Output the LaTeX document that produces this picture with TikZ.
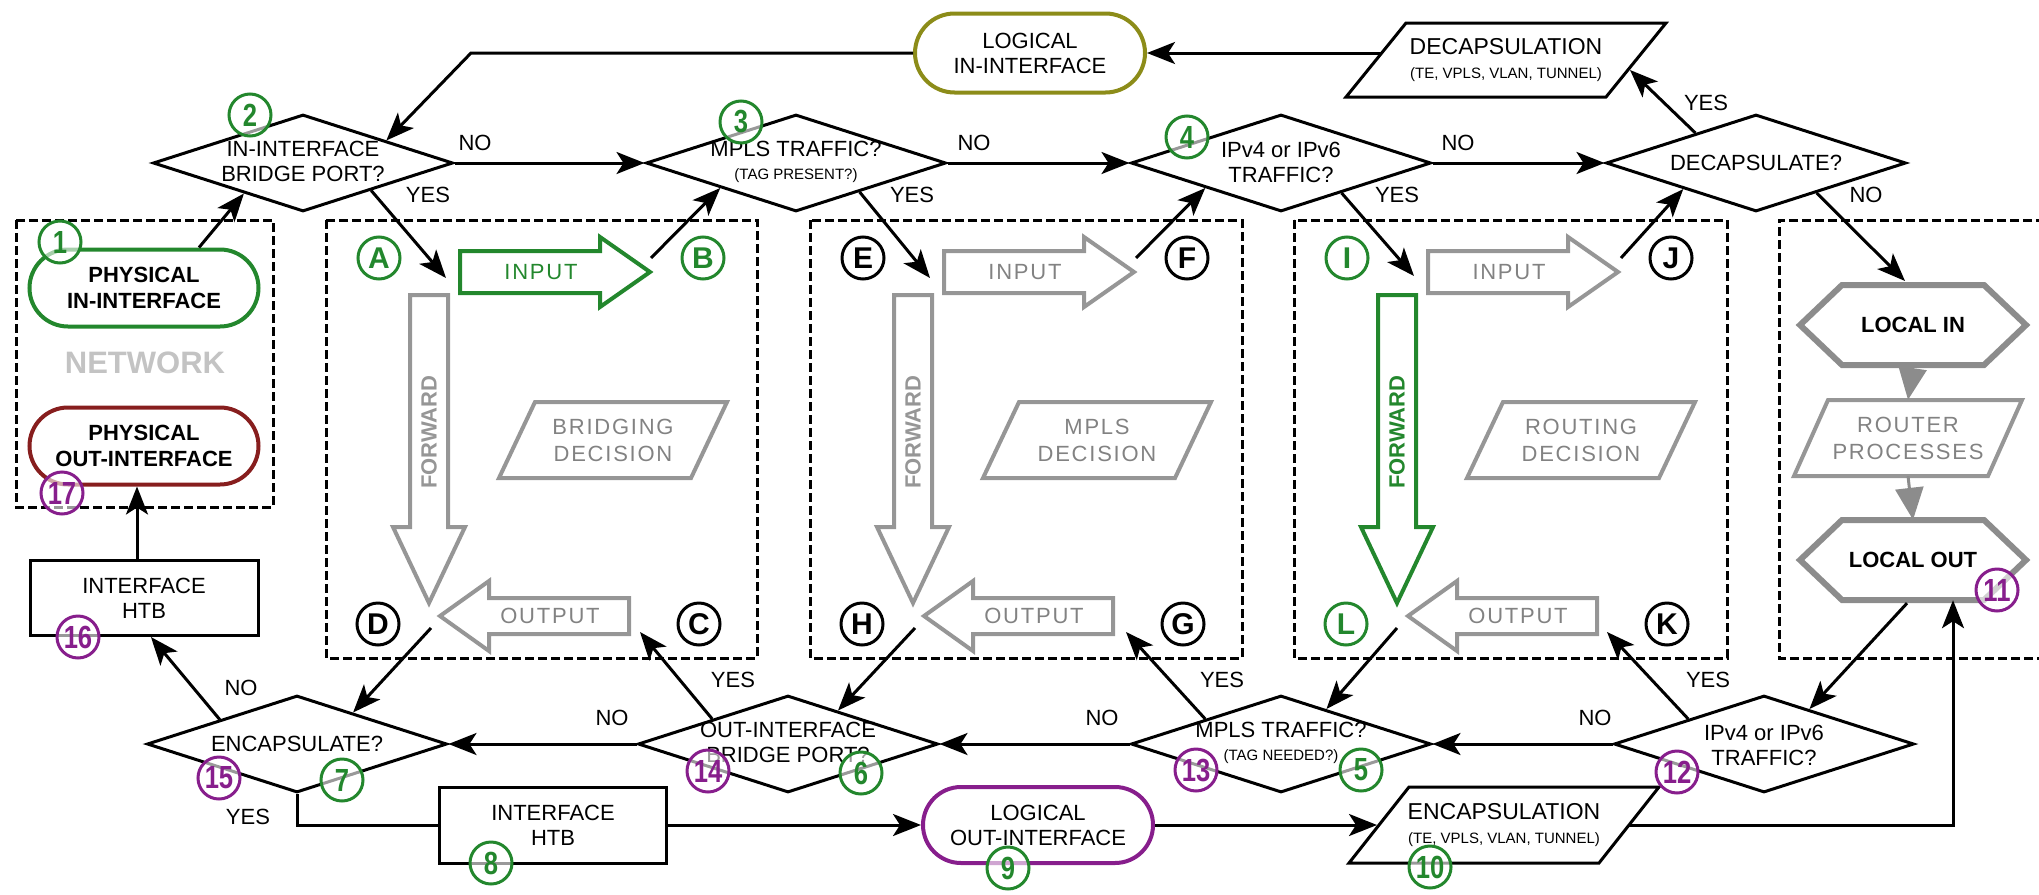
\documentclass[tikz,border=0pt]{standalone}
\usepackage{fontspec}
\setmainfont{Liberation Sans}
\newfontfamily\spfont{Liberation Sans}[LetterSpace=8]
\newfontfamily\numfont{Liberation Sans}[FakeStretch=0.8]
\usetikzlibrary{arrows.meta,shapes.geometric,shapes.misc,calc}
\definecolor{grn}{RGB}{35,135,45}
\definecolor{purp}{RGB}{135,30,140}
\definecolor{dred}{RGB}{135,30,30}
\definecolor{oliv}{RGB}{140,140,25}
\definecolor{gra}{RGB}{150,150,150}
\definecolor{grt}{RGB}{130,130,130}
\definecolor{netg}{RGB}{195,195,195}
\definecolor{hexg}{RGB}{140,140,140}
\newcommand\fs[2]{\fontsize{#1}{#2}\selectfont}
% right-pointing block arrow: tail x, tip x, y, colour
\newcommand\rblk[4]{\draw[#4,line width=4pt] (#1,#3-21) -- (#2-50,#3-21) -- (#2-50,#3-35) -- (#2,#3) -- (#2-50,#3+35) -- (#2-50,#3+21) -- (#1,#3+21) -- cycle;}
% left-pointing block arrow: tail x, tip x, y, colour
\newcommand\lblk[4]{\draw[#4,line width=4pt] (#1,#3-18) -- (#2+49,#3-18) -- (#2+49,#3-35) -- (#2,#3) -- (#2+49,#3+35) -- (#2+49,#3+18) -- (#1,#3+18) -- cycle;}
% down-pointing block arrow: x, top y, tip y, colour
\newcommand\dblk[4]{\draw[#4,line width=4pt] (#1-19,#2) -- (#1+19,#2) -- (#1+19,#3-76) -- (#1+36,#3-76) -- (#1,#3) -- (#1-36,#3-76) -- (#1-19,#3-76) -- cycle;}
% parallelogram: cx, cy, half width, half height, slant, options
\newcommand\parashape[6]{\draw[#6] (#1-#3+#5,#2-#4) -- (#1+#3+#5,#2-#4) -- (#1+#3-#5,#2+#4) -- (#1-#3-#5,#2+#4) -- cycle;}
% hexagon: cx, cy, half width, half height, inset
\newcommand\hexshape[5]{\draw[hexg,line width=6pt,fill=white] (#1-#3,#2) -- (#1-#3+#5,#2-#4) -- (#1+#3-#5,#2-#4) -- (#1+#3,#2) -- (#1+#3-#5,#2+#4) -- (#1-#3+#5,#2+#4) -- cycle;}
\begin{document}
\begin{tikzpicture}[x=1pt,y=-1pt,
 every node/.style={inner sep=0pt, align=center, font=\fs{22}{25}},
 dia/.style={diamond, draw, line width=3pt, minimum width=300pt, minimum height=97pt, aspect=3},
 conn/.style={line width=3pt, -{Stealth[length=28pt,width=22pt,inset=7pt]}},
 plain/.style={line width=3pt},
 dbox/.style={line width=3pt, dash pattern=on 9pt off 4pt},
 stad/.style={rounded rectangle, draw=#1, line width=4pt, minimum width=229pt, minimum height=77pt},
 rbox/.style={rectangle, draw, line width=3pt, minimum width=228pt, minimum height=75pt},
 ncirc/.style={circle, draw=#1, text=#1, line width=3pt, minimum size=42pt, fill=white, fill opacity=0.6, text opacity=1, font=\numfont\bfseries\fs{32}{32}},
 lcirc/.style={circle, draw=#1, text=#1, line width=3pt, minimum size=42pt, fill=white, font=\bfseries\fs{30}{30}},
 gtxt/.style={text=grt, font=\spfont\fs{22}{27}},
 ftxt/.style={text=#1, rotate=90, font=\bfseries\fs{22}{22}},
 garrow/.style={draw=hexg, line width=3pt, -{Triangle[length=32pt,width=28pt]}},
]
\useasboundingbox (0,0) rectangle (2039,894);

% ---------- dashed frames ----------
\draw[dbox] (16,220) rectangle (273,507);
\draw[dbox] (326,220) rectangle (757,658);
\draw[dbox] (810,220) rectangle (1242,658);
\draw[dbox] (1294,220) rectangle (1727,658);
\draw[dbox] (2045,220) -- (1779,220) -- (1779,658) -- (2045,658);

% ---------- block arrows ----------
\dblk{429}{295}{603}{gra}
\rblk{460}{650}{272}{grn}
\lblk{629}{440}{616}{gra}
\dblk{913}{295}{603}{gra}
\rblk{944}{1134}{272}{gra}
\lblk{1113}{924}{616}{gra}
\dblk{1397}{295}{603}{grn}
\rblk{1428}{1618}{272}{gra}
\lblk{1597}{1408}{616}{gra}

\node[ftxt=gra] (fwB) at (429,432) {FORWARD};
\node[ftxt=gra] (fwM) at (913,432) {FORWARD};
\node[ftxt=grn] (fwR) at (1397,432) {FORWARD};
\node[gtxt, text=grn] (inB) at (541,272) {INPUT};
\node[gtxt] (inM) at (1025,272) {INPUT};
\node[gtxt] (inR) at (1509,272) {INPUT};
\node[gtxt] (outB) at (550,616) {OUTPUT};
\node[gtxt] (outM) at (1034,616) {OUTPUT};
\node[gtxt] (outR) at (1518,616) {OUTPUT};

% ---------- decision parallelograms ----------
\parashape{613}{440}{96}{38}{18}{gra,line width=4pt}
\parashape{1097}{440}{96}{38}{18}{gra,line width=4pt}
\parashape{1581}{440}{96}{38}{18}{gra,line width=4pt}
\node[gtxt] (bdec) at (613,440) {BRIDGING\\DECISION};
\node[gtxt] (mdec) at (1097,440) {MPLS\\DECISION};
\node[gtxt] (rdec) at (1581,440) {ROUTING\\DECISION};

% ---------- network frame ----------
\node[stad=grn, font=\bfseries\fs{22}{26}] (physin) at (144,288) {PHYSICAL\\IN-INTERFACE};
\node[stad=dred, font=\bfseries\fs{22}{26}] (physout) at (144,446) {PHYSICAL\\OUT-INTERFACE};
\node[text=netg, font=\bfseries\fs{31}{31}] (net) at (145,363) {NETWORK};
\node[rbox] (htbA) at (144,598) {INTERFACE\\HTB};

% ---------- top row ----------
\node[stad=oliv, minimum width=230pt, minimum height=79pt] (login) at (1030,53) {LOGICAL\\IN-INTERFACE};
\parashape{1506}{60}{130}{37}{30}{line width=3pt}
\node[minimum width=320pt, minimum height=74pt] (decap) at (1506,60) {\fs{23}{25}DECAPSULATION\\[-1pt]{\fs{15}{17}(TE, VPLS, VLAN, TUNNEL)}};

\node[dia] (D2) at (303,163) {};
\node[dia] (D3) at (796,163) {};
\node[dia] (D4) at (1281,163) {};
\node[dia] (DD) at (1756,163) {};
\node (D2t) at (303,161) {IN-INTERFACE\\BRIDGE PORT?};
\node (D3t) at (796,162) {MPLS TRAFFIC?\\[-2pt]{\fs{15}{17}(TAG PRESENT?)}};
\node (D4t) at (1281,162) {IPv4 or IPv6\\TRAFFIC?};
\node (DDt) at (1756,163) {DECAPSULATE?};

% ---------- local frame ----------
\hexshape{1913}{325}{113}{40}{42}
\hexshape{1913}{560}{113}{40}{42}
\node[minimum width=226pt, minimum height=80pt, font=\bfseries\fs{22}{22}] (locin) at (1913,325) {LOCAL IN};
\node[minimum width=226pt, minimum height=80pt, font=\bfseries\fs{22}{22}] (locout) at (1913,560) {LOCAL OUT};
\parashape{1908}{438}{97}{38}{17}{gra,line width=4pt}
\node[gtxt, minimum width=228pt, minimum height=76pt] (rproc) at (1908,438) {ROUTER\\PROCESSES};
\draw[garrow] (locin.south) -- (rproc.north);
\draw[garrow] (rproc.south) -- (locout.north);

% ---------- bottom row ----------
\node[dia] (D7) at (297,744) {};
\node[dia] (D6) at (788,744) {};
\node[dia] (D5) at (1281,744) {};
\node[dia] (D12) at (1764,744) {};
\node (D7t) at (297,744) {ENCAPSULATE?};
\node (D6t) at (788,742) {OUT-INTERFACE\\BRIDGE PORT?};
\node (D5t) at (1281,743) {MPLS TRAFFIC?\\[-2pt]{\fs{15}{17}(TAG NEEDED?)}};
\node (D12t) at (1764,745) {IPv4 or IPv6\\TRAFFIC?};

\node[rbox, minimum width=227pt, minimum height=76pt] (htbB) at (553,825) {INTERFACE\\HTB};
\node[stad=purp, minimum width=230pt, minimum height=76pt] (logout) at (1038,825) {LOGICAL\\OUT-INTERFACE};
\parashape{1504}{825}{125}{38}{30}{line width=3pt}
\node[minimum width=310pt, minimum height=76pt] (encap) at (1504,825) {\fs{23}{25}ENCAPSULATION\\[-1pt]{\fs{15}{17}(TE, VPLS, VLAN, TUNNEL)}};

% ---------- named free ends ----------
\coordinate (fb) at (471,53);
\coordinate (decapL) at (1382,53);
\coordinate (decapR) at (1630,70);
\coordinate (inBs) at (446,278);
\coordinate (inBe) at (651,258);
\coordinate (inMs) at (930,278);
\coordinate (inMe) at (1136,258);
\coordinate (inRs) at (1414,276);
\coordinate (inRe) at (1621,258);
\coordinate (locinT) at (1905,281);
\coordinate (outBs) at (431,628);
\coordinate (outBt) at (640,632);
\coordinate (outMs) at (915,628);
\coordinate (outMt) at (1126,632);
\coordinate (outRs) at (1397,628);
\coordinate (outRt) at (1607,632);
\coordinate (encapR) at (1629,825);
\coordinate (encapL) at (1377,825);

% ---------- connectors ----------
\draw[conn] ($(physin.north)+(55,0)$) -- ($(D2.west)!0.61!(D2.south)$);
\draw[conn] (login.west) -- (fb) -- ($(D2.north)!0.55!(D2.east)$);
\draw[conn] (decapL) -- (login.east);
\draw[conn] (D2.east) -- (D3.west);
\draw[conn] (D3.east) -- (D4.west);
\draw[conn] (D4.east) -- (DD.west);
\draw[conn] ($(D2.south)!0.45!(D2.east)$) -- (inBs);
\draw[conn] ($(D3.south)!0.42!(D3.east)$) -- (inMs);
\draw[conn] ($(D4.south)!0.40!(D4.east)$) -- (inRs);
\draw[conn] (inBe) -- ($(D3.west)!0.5!(D3.south)$);
\draw[conn] (inMe) -- ($(D4.west)!0.5!(D4.south)$);
\draw[conn] (inRe) -- ($(DD.west)!0.52!(DD.south)$);
\draw[conn] ($(DD.north)!0.4!(DD.west)$) -- (decapR);
\draw[conn] ($(DD.south)!0.4!(DD.east)$) -- (locinT);

\draw[conn] (encapR) -| ($(locout.south)+(40,0)$);
\draw[conn] ($(locout.south)+(-6,3)$) -- ($(D12.north)!0.3!(D12.east)$);
\draw[conn] ($(D12.west)!0.5!(D12.north)$) -- (outRt);
\draw[conn] (D12.west) -- (D5.east);
\draw[conn] (outRs) -- ($(D5.north)!0.3!(D5.east)$);
\draw[conn] ($(D5.west)!0.5!(D5.north)$) -- (outMt);
\draw[conn] (D5.west) -- (D6.east);
\draw[conn] (outMs) -- ($(D6.north)!0.33!(D6.east)$);
\draw[conn] ($(D6.west)!0.5!(D6.north)$) -- (outBt);
\draw[conn] (D6.west) -- (D7.east);
\draw[conn] (outBs) -- ($(D7.north)!0.37!(D7.east)$);
\draw[conn] ($(D7.west)!0.49!(D7.north)$) -- ($(htbA.south west)!0.53!(htbA.south east)$);
\draw[plain] (D7.south) |- (htbB.west);
\draw[conn] (htbB.east) -- (logout.west);
\draw[conn] (logout.east) -- (encapL);
\draw[conn] ($(htbA.north)+(-7,0)$) -- ($(physout.south)+(-7,0)$);

% ---------- YES / NO labels ----------
\node (n1) at (475,143) {NO};
\node (n2) at (974,143) {NO};
\node (n3) at (1458,143) {NO};
\node (y1) at (428,195) {YES};
\node (y2) at (912,195) {YES};
\node (y3) at (1397,195) {YES};
\node (y4) at (1706,103) {YES};
\node (n4) at (1866,195) {NO};
\node (n5) at (1595,718) {NO};
\node (n6) at (1102,718) {NO};
\node (n7) at (612,718) {NO};
\node (y5) at (1708,680) {YES};
\node (y6) at (1222,680) {YES};
\node (y7) at (733,680) {YES};
\node (n8) at (241,688) {NO};
\node (y8) at (248,817) {YES};

% ---------- letter circles ----------
\node[lcirc=grn] (cA) at (379,258) {A};
\node[lcirc=grn] (cB) at (703,258) {B};
\node[lcirc=black] (cC) at (699,624) {C};
\node[lcirc=black] (cD) at (378,624) {D};
\node[lcirc=black] (cE) at (863,258) {E};
\node[lcirc=black] (cF) at (1187,258) {F};
\node[lcirc=black] (cG) at (1183,624) {G};
\node[lcirc=black] (cH) at (862,624) {H};
\node[lcirc=grn] (cI) at (1347,258) {I};
\node[lcirc=black] (cJ) at (1671,258) {J};
\node[lcirc=black] (cK) at (1667,624) {K};
\node[lcirc=grn] (cL) at (1346,624) {L};

% ---------- number circles ----------
\node[ncirc=grn] (k1) at (60,242) {1};
\node[ncirc=grn] (k2) at (250,115) {2};
\node[ncirc=grn] (k3) at (741,122) {3};
\node[ncirc=grn] (k4) at (1187,137) {4};
\node[ncirc=grn] (k5) at (1361,770) {5};
\node[ncirc=grn] (k6) at (861,773) {6};
\node[ncirc=grn] (k7) at (342,780) {7};
\node[ncirc=grn] (k8) at (491,863) {8};
\node[ncirc=grn] (k9) at (1008,868) {9};
\node[ncirc=grn] (k10) at (1430,867) {10};
\node[ncirc=purp] (k11) at (1997,590) {11};
\node[ncirc=purp] (k12) at (1677,772) {12};
\node[ncirc=purp] (k13) at (1196,770) {13};
\node[ncirc=purp] (k14) at (708,771) {14};
\node[ncirc=purp] (k15) at (219,778) {15};
\node[ncirc=purp] (k16) at (78,637) {16};
\node[ncirc=purp] (k17) at (62,493) {17};
\end{tikzpicture}
\end{document}
